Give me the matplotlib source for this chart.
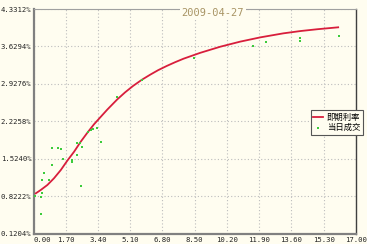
import matplotlib
matplotlib.use("Agg")
import matplotlib.pyplot as plt
import numpy as np

# 即期利率曲线
curva_x = [0.12, 0.38, 0.73, 1.08, 1.44, 1.78, 2.14, 2.49, 2.84, 3.19, 3.55, 3.90,
           4.42, 4.83, 5.25, 5.71, 6.15, 6.57, 7.03, 7.47, 7.91, 8.79, 9.85, 10.90,
           11.96, 13.17, 14.07, 14.96, 16.06]
curva_y = [0.877, 0.939, 1.033, 1.159, 1.314, 1.488, 1.657, 1.845, 2.013, 2.171, 2.313, 2.450,
           2.639, 2.770, 2.890, 3.005, 3.100, 3.185, 3.265, 3.335, 3.400, 3.510, 3.625, 3.720,
           3.800, 3.875, 3.918, 3.952, 3.988]

# 当日成交
pontos_x = [0.08, 0.38, 0.46, 0.38, 0.46, 0.57, 0.80, 0.98, 0.98, 1.29, 1.47, 1.54,
            2.02, 2.05, 2.28, 2.31, 2.46, 2.54, 2.49, 2.89, 3.04, 3.16, 3.34, 3.55,
            4.39, 5.71, 8.44, 11.57, 12.28, 14.03, 14.03, 16.09]
pontos_y = [0.827, 0.808, 0.878, 0.484, 1.121, 1.264, 1.121, 1.402, 1.721, 1.721, 1.713, 1.526,
            1.502, 1.458, 1.595, 1.826, 1.826, 1.745, 1.009, 2.032, 2.064, 2.082, 2.096, 1.845,
            2.688, 3.005, 3.407, 3.638, 3.707, 3.788, 3.731, 3.825]

ytk = [0.1204, 0.8222, 1.5240, 2.2258, 2.9276, 3.6294, 4.3312]
xtk = [0.0, 1.7, 3.4, 5.1, 6.8, 8.5, 10.2, 11.9, 13.6, 15.3, 17.0]
titulo = "2009-04-27"
nomes = ["即期利率", "当日成交"]

fundo = "#FFFDF0"
fig = plt.figure(figsize=(3.67, 2.44), dpi=100, facecolor=fundo)
ax = fig.add_axes([33.5/367, 1-233.7/244, 322.5/367, 224.7/244])
ax.set_facecolor(fundo)

ax.plot(curva_x, curva_y, color="#D81E3C", lw=1.3, label=nomes[0], zorder=3,
        solid_joinstyle="round")
ax.scatter(pontos_x, pontos_y, s=4, marker="s", color="#3CCB3C", lw=0, label=nomes[1], zorder=4)

ax.set_xlim(0, 17)
ax.set_ylim(ytk[0], ytk[-1])
ax.set_xticks(xtk)
ax.set_yticks(ytk)
ax.set_xticklabels(["%.2f" % v for v in xtk], family="DejaVu Sans Mono", fontsize=5.2, color="#222222")
ax.set_yticklabels(["%.4f%%" % v for v in ytk], family="DejaVu Sans Mono", fontsize=5.2, color="#222222")
ax.get_xticklabels()[0].set_horizontalalignment("left")
ax.tick_params(axis="y", length=0, pad=1.5)
ax.tick_params(axis="x", length=0, pad=2.5)
ax.grid(True, color="#BDBDBD", lw=0.8, ls=(0, (1, 2)))
ax.set_axisbelow(True)

ax.spines["left"].set_color("#808080")
ax.spines["left"].set_linewidth(1.6)
ax.spines["bottom"].set_color("#808080")
ax.spines["bottom"].set_linewidth(1.6)
ax.spines["right"].set_color("#404040")
ax.spines["right"].set_linewidth(1.0)
ax.spines["top"].set_color("#A0A0A0")
ax.spines["top"].set_linewidth(0.8)

fig.text(213/367, 1-12.5/244, titulo, ha="center", va="center", family="DejaVu Sans Mono",
         fontsize=7.5, color="#A89464",
         bbox=dict(facecolor=fundo, edgecolor="none", pad=1.0))

leg = ax.legend(loc="upper left", bbox_to_anchor=(0.86, 0.5505), borderaxespad=0,
                prop={"family": ["Noto Sans CJK SC", "DejaVu Sans"], "size": 6},
                handlelength=1.2, handletextpad=0.4, borderpad=0.3, labelspacing=0.2,
                fancybox=False, frameon=True, markerscale=0.8)
leg.get_frame().set_edgecolor("#555555")
leg.get_frame().set_facecolor(fundo)
leg.get_frame().set_linewidth(0.8)
leg.get_frame().set_alpha(1)

fig.savefig("out.png", dpi=100, facecolor=fundo)
